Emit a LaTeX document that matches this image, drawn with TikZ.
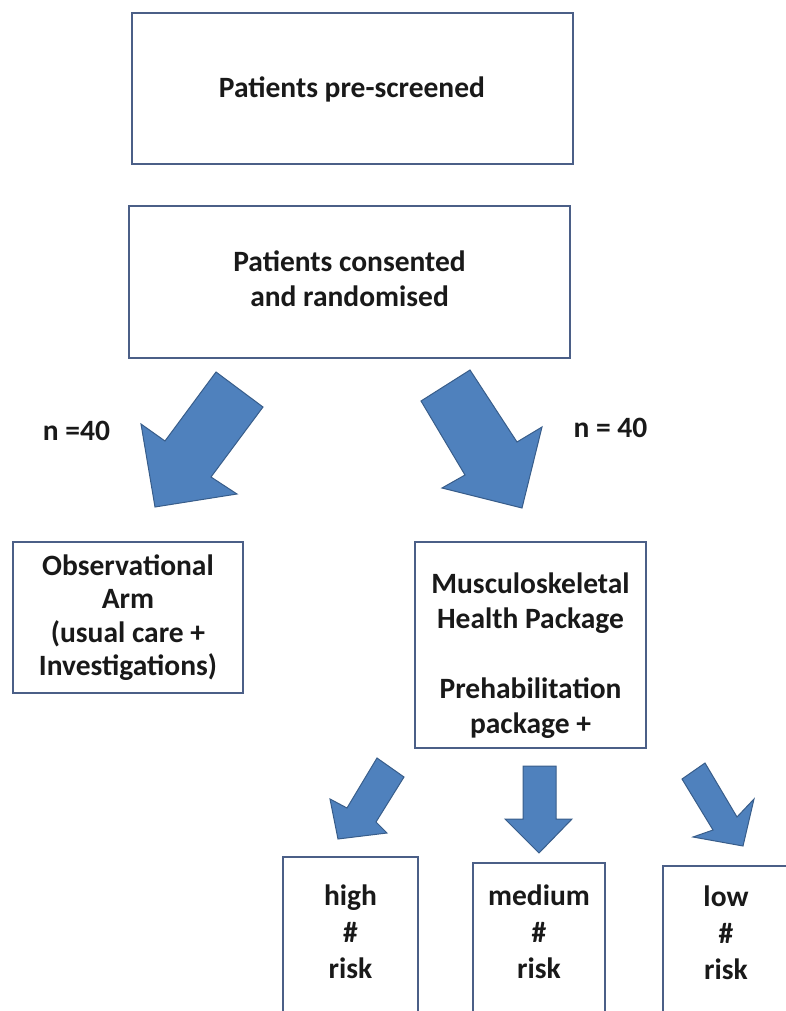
\documentclass[tikz,border=0pt]{standalone}
\usepackage{fontspec}
\setmainfont{Carlito}
\definecolor{boxline}{RGB}{75,95,135}
\definecolor{arrowfill}{RGB}{79,129,189}
\definecolor{arrowline}{RGB}{56,93,138}
\definecolor{ink}{RGB}{25,25,25}
\begin{document}
\begin{tikzpicture}[x=1pt,y=-1pt,
  box/.style={draw=boxline, line width=2pt, rectangle, align=center,
    inner sep=0pt, font=\bfseries\fontsize{29.5}{35}\selectfont, text=ink},
  txt/.style={align=center, inner sep=0pt,
    font=\bfseries\fontsize{29.5}{35}\selectfont, text=ink},
  risktxt/.style={txt, font=\bfseries\fontsize{29.5}{36.5}\selectfont},
  blockarrow/.style={fill=arrowfill, draw=arrowline, line width=1pt, line join=miter}]
\useasboundingbox (0,0) rectangle (786,1011);
\clip (0,0) rectangle (786,1011);

% screening and randomisation
\node[box, minimum width=441, minimum height=151] (pre) at (352,89) {Patients pre-screened};
\node[box, minimum width=441, minimum height=152] (rand) at (349.5,282) {};
\node[txt] (randtext) at (349.5,279) {Patients consented\\and randomised};

% two study arms
\node[box, minimum width=230, minimum height=151,
  font=\bfseries\fontsize{29.5}{33.5}\selectfont] (obs) at (128,617.5)
  {Observational\\Arm\\(usual care +\\Investigations)};
\node[box, minimum width=231, minimum height=206] (msk) at (530.5,645) {};
\node[txt] (msktext) at (530.5,656)
  {Musculoskeletal\\Health Package\\[35pt]Prehabilitation\\package +};

\node[txt] (nleft) at (76.5,431) {n =40};
\node[txt] (nright) at (610.5,428) {n = 40};

% risk strata, boxes run on past the lower edge
\node[box, minimum width=135, minimum height=170] (high) at (350.5,942) {};
\node[box, minimum width=132, minimum height=164] (medium) at (539,945) {};
\node[box, minimum width=128, minimum height=160] (low) at (727,946) {};
\node[risktxt] (hightext) at (350.5,932) {high\\\#\\risk};
\node[risktxt] (mediumtext) at (539,932) {medium\\\#\\risk};
\node[risktxt] (lowtext) at (726,933) {low\\\#\\risk};

% block arrows
\draw[blockarrow] (216,372) -- (263,407) -- (211,477) -- (237,494) -- (155,507)
  -- (141,424) -- (165,441) -- cycle;
\draw[blockarrow] (421,401) -- (470,370) -- (517,442) -- (542,427) -- (522,508)
  -- (442,488) -- (465,475) -- cycle;
\draw[blockarrow] (377,758) -- (404,777) -- (376,822) -- (387,833) -- (338,839)
  -- (330,799) -- (347,808) -- cycle;
\draw[blockarrow] (523,766) -- (556,766) -- (556,819) -- (572,819) -- (539,853)
  -- (505,819) -- (523,819) -- cycle;
\draw[blockarrow] (682,779) -- (705,763) -- (737,817) -- (754,799) -- (743,846)
  -- (693,837) -- (713,830) -- cycle;
\end{tikzpicture}
\end{document}
